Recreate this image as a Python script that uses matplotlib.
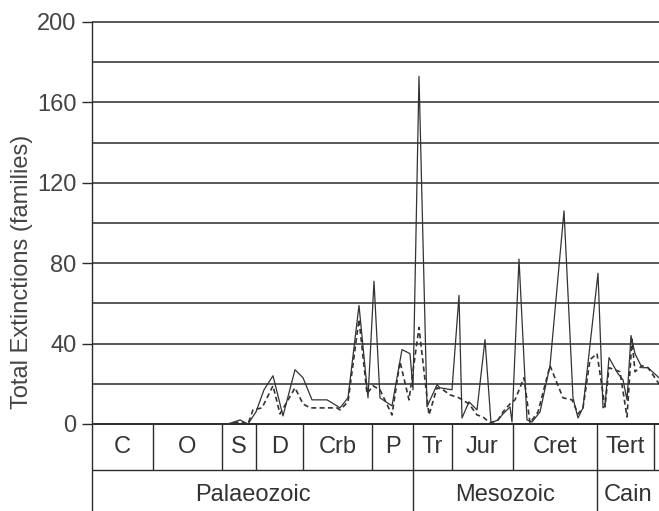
import matplotlib
matplotlib.use("Agg")
import matplotlib.pyplot as plt
import numpy as np

plt.rcParams.update({
    "font.family": ["Liberation Sans", "DejaVu Sans"],
})

# position along the time axis (arbitrary units, base of Cambrian = 0)
total_pos = [0, 136, 148, 156, 164, 172, 181, 191, 203, 211, 220, 235, 245, 248,
             256, 267, 276, 282, 288, 300, 310, 318, 321, 327, 335, 345, 348, 360,
             367, 370, 377, 385, 393, 399, 406, 411, 418, 420, 427, 435, 440, 448,
             458, 472, 481, 486, 491, 506, 511, 513, 517, 526, 531, 535, 539, 543,
             550, 556, 567]
total_ext = [0, 0, 2, 0, 6, 17, 24, 4, 27, 23, 12, 12, 9, 8,
             13, 59, 13, 71, 13, 9, 37, 35, 17, 173, 8.5, 19.5, 18, 17,
             64, 3, 11, 7, 42, 0.5, 2, 5, 8.5, 1, 82, 2, 1, 6,
             29, 106, 13, 3, 8, 75, 8, 9, 33, 25, 22, 12, 44,
             35, 28, 28, 23]

other_pos = [0, 136, 148, 156, 161, 170, 181, 188, 203, 211, 218, 235, 245, 248,
             256, 267, 275, 281, 288, 300, 308, 317, 327, 337, 345, 351, 358, 367,
             377, 385, 391, 398, 406, 411, 418, 423, 432, 438, 446, 458, 471, 480,
             486, 491, 498, 505, 513, 517, 528, 535, 540, 543, 550, 556, 567]
other_ext = [0, 0, 1, 0, 7, 8, 19, 5, 18, 10, 8, 8, 8, 7,
             11, 52, 15, 19, 17, 4.5, 31, 12, 48, 4.5, 18, 17, 14.5, 13,
             10, 4.5, 3.5, 0.5, 2, 6, 10, 12, 23, 0.5, 6, 29, 13, 12,
             5, 8, 32, 35, 8.5, 28, 26, 3.5, 42, 26, 29, 28, 20]

periods = ["C", "O", "S", "D", "Crb", "P", "Tr", "Jur", "Cret", "Tert"]
period_edges = [0, 61, 130, 164, 211, 280, 321, 360, 421, 505, 562]
eras = ["Palaeozoic", "Mesozoic", "Cain"]
era_edges = [0, 321, 505, 567]

XMAX = 567
YBOT = -43.3
ROW = -22.9
ink = "#2b2b2b"

fig = plt.figure(figsize=(6.59, 5.11), dpi=100)
ax = fig.add_axes([92 / 659, 0, (659 - 92) / 659, (511 - 22) / 511])
ax.set_xlim(0, XMAX)
ax.set_ylim(YBOT, 200)

# horizontal grid
ax.hlines(np.arange(0, 201, 20), 0, XMAX, color=ink, lw=1.1, clip_on=False, zorder=1)
ax.hlines(0, 0, XMAX, color=ink, lw=1.4, zorder=1)

ax.plot(total_pos, total_ext, color="#333333", lw=0.9, zorder=3)
ax.plot(other_pos, other_ext, color="#333333", lw=1.2, ls=(0, (3, 2)), zorder=3)

# stratigraphic table under the axis
ax.hlines(ROW, 0, XMAX, color=ink, lw=1.0)
ax.vlines(period_edges[1:], ROW, 0, color=ink, lw=1.0)
ax.vlines(era_edges[1:-1], YBOT, ROW, color=ink, lw=1.0)
for i, lab in enumerate(periods):
    ax.text((period_edges[i] + period_edges[i + 1]) / 2, ROW / 2, lab,
            ha="center", va="center", fontsize=17, color="#333333")
for i, lab in enumerate(eras):
    ax.text((era_edges[i] + era_edges[i + 1]) / 2, (ROW + YBOT) / 2 - 2, lab,
            ha="center", va="center", fontsize=17, color="#333333")

for s in ["top", "right", "bottom"]:
    ax.spines[s].set_visible(False)
ax.spines["left"].set_color(ink)
ax.spines["left"].set_linewidth(1.0)
ax.set_xticks([])
ax.set_yticks(np.arange(0, 201, 40))
ax.tick_params(axis="y", length=7, width=1.0, color=ink, pad=4,
               labelsize=17, labelcolor="#444444")
ax.set_ylabel("Total Extinctions (families)", fontsize=17, color="#444444")
ax.yaxis.set_label_coords(-0.104, 0.49)

fig.savefig("out.png", dpi=100)
